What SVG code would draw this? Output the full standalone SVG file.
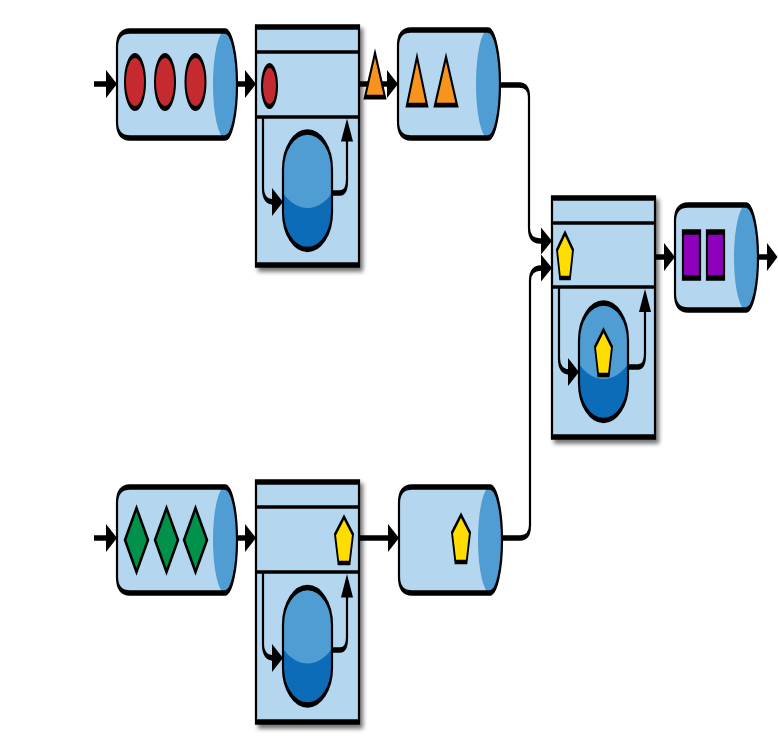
<svg xmlns="http://www.w3.org/2000/svg" xmlns:xlink="http://www.w3.org/1999/xlink" width="778" height="740" viewBox="0 0 778 740">
<style>
.body{fill:#b4d6ee;stroke:none}
.cap{fill:#4f9dd2;stroke:none}
.ol{fill:none;stroke:#000;stroke-width:2.2;stroke-linejoin:round}
.box{fill:#b4d6ee;stroke:#000;stroke-width:2.2}
.div{stroke:#000;stroke-width:1.4}
.ln{fill:none;stroke:#000;stroke-width:2.2;stroke-linejoin:round}
.ah{fill:#000;stroke:none}
.red{fill:#c42a30;stroke:#000;stroke-width:2}
.grn{fill:#00914a;stroke:#000;stroke-width:2;stroke-linejoin:miter}
.org{fill:#f7941e;stroke:#000;stroke-width:1.9;stroke-linejoin:miter}
.yel{fill:#ffdd00;stroke:#000;stroke-width:1.8;stroke-linejoin:miter}
.pur{fill:#8f00bd;stroke:#000;stroke-width:2.2}
</style>
<defs>
<filter id="sh" x="-10%" y="-10%" width="130%" height="130%">
<feGaussianBlur in="SourceAlpha" stdDeviation="2.2 0.9"/>
<feOffset dx="3" dy="1.4" result="b"/>
<feComponentTransfer><feFuncA type="linear" slope="0.55"/></feComponentTransfer>
<feMerge><feMergeNode/><feMergeNode in="SourceGraphic"/></feMerge>
</filter>
<clipPath id="pc"><rect x="0" y="0" width="49" height="47" rx="24.5" ry="15"/></clipPath>
<g id="pill">
<rect x="0" y="0" width="49" height="47" rx="24.5" ry="15" fill="#0a6cb8"/>
<ellipse cx="24.5" cy="9.4" rx="35" ry="21" fill="#4f9dd2" clip-path="url(#pc)"/>
<rect x="0" y="0" width="49" height="47" rx="24.5" ry="15" fill="none" stroke="#000" stroke-width="2.2"/>
</g>
</defs>
<rect width="778" height="740" fill="#fff"/>
<g transform="scale(1,2.5)">

<g id="connectors">
<path class="ln" d="M94,33.6 H108"/><polygon class="ah" points="106,28 117,33.6 106,39.2"/>
<path class="ln" d="M237,33.6 H247"/><polygon class="ah" points="245,28 256,33.6 245,39.2"/>
<path class="ln" d="M359,33.6 H389"/><polygon class="ah" points="387,28 398,33.6 387,39.2"/>
<path class="ln" d="M500,34 H519 Q529,34 529,38.8 V91.2 Q529,96.4 540,96.4 H543"/><polygon class="ah" points="541,91 552,96.4 541,101.8"/>
<path class="ln" d="M502,215.2 H520 Q530,215.2 530,210 V112.4 Q530,107.2 541,107.2 H543"/><polygon class="ah" points="541,101.8 552,107.2 541,112.6"/>
<path class="ln" d="M655,102.8 H666"/><polygon class="ah" points="664,97.2 675,102.8 664,108.4"/>
<path class="ln" d="M758,102.8 H768"/><polygon class="ah" points="767,97.2 777.5,102.8 767,108.4"/>
<path class="ln" d="M94,215.2 H108"/><polygon class="ah" points="106,209.6 117,215.2 106,220.8"/>
<path class="ln" d="M237,215.2 H247"/><polygon class="ah" points="245,209.6 256,215.2 245,220.8"/>
<path class="ln" d="M359,215.2 H390"/><polygon class="ah" points="388,209.6 399,215.2 388,220.8"/>
</g>

<g id="queue-red">
<path class="body" d="M130,12.4 H225 A12,21.4 0 0 1 225,55.2 H130 Q117,55.2 117,48.8 V18.8 Q117,12.4 130,12.4 Z"/>
<ellipse class="cap" cx="225" cy="33.8" rx="12" ry="21.4"/>
<path class="ol" d="M130,12.4 H225 A12,21.4 0 0 1 225,55.2 H130 Q117,55.2 117,48.8 V18.8 Q117,12.4 130,12.4 Z"/>
<ellipse class="red" cx="135" cy="32.8" rx="10" ry="10.6"/>
<ellipse class="red" cx="165" cy="32.8" rx="10" ry="10.6"/>
<ellipse class="red" cx="195.5" cy="32.8" rx="10" ry="10.6"/>
</g>

<g id="processor-top" filter="url(#sh)">
<rect class="box" x="256" y="10.8" width="103" height="95.2"/>
<line class="div" x1="256" y1="20.8" x2="359" y2="20.8"/>
<line class="div" x1="256" y1="46.8" x2="359" y2="46.8"/>
<ellipse class="red" cx="269.5" cy="34.4" rx="7.5" ry="8.2"/>
<use xlink:href="#pill" transform="translate(283,52.8)"/>
<path class="ln" d="M263,46.8 V75.2 Q263,80.8 274,80.8"/><polygon class="ah" points="272,75.2 283,80.8 272,86.4"/>
<path class="ln" d="M332,77.2 H340 Q347,77.2 347,72 V55"/><polygon class="ah" points="341,56.6 347,47.4 353,56.6"/>
</g>

<g id="token-orange">
<polygon class="org" points="375,21.2 385,38.8 365,38.8"/>
</g>

<g id="queue-orange">
<path class="body" d="M411,12 H488 A12,21.6 0 0 1 488,55.2 H411 Q398,55.2 398,48.8 V18.4 Q398,12 411,12 Z"/>
<ellipse class="cap" cx="488" cy="33.6" rx="12" ry="21.6"/>
<path class="ol" d="M411,12 H488 A12,21.6 0 0 1 488,55.2 H411 Q398,55.2 398,48.8 V18.4 Q398,12 411,12 Z"/>
<polygon class="org" points="417,22.8 427,42 407,42"/>
<polygon class="org" points="446,22.8 457,42 435,42"/>
</g>

<g id="queue-green">
<path class="body" d="M130,194.8 H225 A12,21.2 0 0 1 225,237.2 H130 Q117,237.2 117,230.8 V201.2 Q117,194.8 130,194.8 Z"/>
<ellipse class="cap" cx="225" cy="216" rx="12" ry="21.2"/>
<path class="ol" d="M130,194.8 H225 A12,21.2 0 0 1 225,237.2 H130 Q117,237.2 117,230.8 V201.2 Q117,194.8 130,194.8 Z"/>
<polygon class="grn" points="136.5,203.2 148,216 136.5,228.8 125,216"/>
<polygon class="grn" points="166.5,203.2 178,216 166.5,228.8 155,216"/>
<polygon class="grn" points="195.5,203.2 207,216 195.5,228.8 184,216"/>
</g>

<g id="processor-bottom" filter="url(#sh)">
<rect class="box" x="256" y="192.8" width="103" height="96"/>
<line class="div" x1="256" y1="202.8" x2="359" y2="202.8"/>
<line class="div" x1="256" y1="228.8" x2="359" y2="228.8"/>
<polygon class="yel" points="344,206.8 353,213.8 349.6,225.2 338.4,225.2 335,213.8"/>
<use xlink:href="#pill" transform="translate(283,235)"/>
<path class="ln" d="M263,228.8 V257.6 Q263,263.2 274,263.2"/><polygon class="ah" points="272,257.6 283,263.2 272,268.8"/>
<path class="ln" d="M332,260 H340 Q347,260 347,255 V238"/><polygon class="ah" points="341,239 347,229.6 353,239"/>
</g>

<g id="queue-yellow">
<path class="body" d="M412,194.8 H490 A12,21.2 0 0 1 490,237.2 H412 Q399,237.2 399,230.8 V201.2 Q399,194.8 412,194.8 Z"/>
<ellipse class="cap" cx="490" cy="216" rx="12" ry="21.2"/>
<path class="ol" d="M412,194.8 H490 A12,21.2 0 0 1 490,237.2 H412 Q399,237.2 399,230.8 V201.2 Q399,194.8 412,194.8 Z"/>
<polygon class="yel" points="461,206 470,213.1 466.6,224.8 455.4,224.8 452,213.1"/>
</g>

<g id="processor-merge" filter="url(#sh)">
<rect class="box" x="552" y="79.2" width="103" height="95.6"/>
<line class="div" x1="552" y1="89.2" x2="655" y2="89.2"/>
<line class="div" x1="552" y1="114.8" x2="655" y2="114.8"/>
<polygon class="yel" points="565,93.2 573,100 570,111.2 560,111.2 557,100"/>
<use xlink:href="#pill" transform="translate(579,121.2)"/>
<polygon class="yel" points="603.5,132 612,138.8 608.8,150 598.2,150 595,138.8"/>
<path class="ln" d="M559,114.8 V143.4 Q559,148.8 570,148.8"/><polygon class="ah" points="568,143.2 579,148.8 568,154.4"/>
<path class="ln" d="M627,146.8 H638 Q645,146.8 645,141.6 V124"/><polygon class="ah" points="639,124.8 645,115.6 651,124.8"/>
</g>

<g id="queue-purple">
<path class="body" d="M688,82 H746 A12,21 0 0 1 746,124 H688 Q675,124 675,117.6 V88.4 Q675,82 688,82 Z"/>
<ellipse class="cap" cx="746" cy="103" rx="12" ry="21"/>
<path class="ol" d="M688,82 H746 A12,21 0 0 1 746,124 H688 Q675,124 675,117.6 V88.4 Q675,82 688,82 Z"/>
<rect class="pur" x="683" y="92.8" width="17" height="18.4"/>
<rect class="pur" x="707" y="92.8" width="17" height="18.4"/>
</g>

</g>
</svg>
